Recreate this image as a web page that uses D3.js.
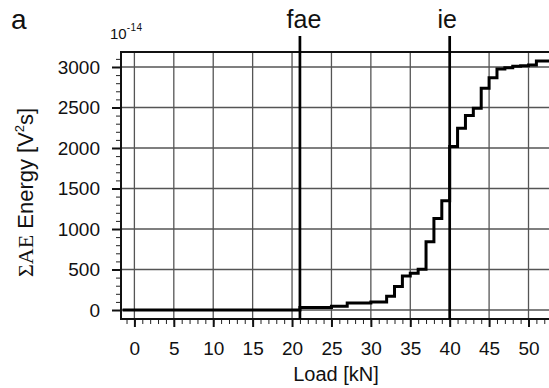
<!DOCTYPE html>
<html><head><meta charset="utf-8">
<script src="https://cdn.jsdelivr.net/npm/d3@7"></script>
<style>body{margin:0;background:#fff}svg{display:block}text{font-family:"Liberation Sans",Arial,sans-serif;fill:#111}</style>
</head><body><svg id="c" width="549" height="388"></svg>
<script>
const loads  = [-1.5, 21, 25, 27, 30, 32, 33, 34, 35, 36, 37, 38, 39, 40, 41, 42, 43, 44, 45, 46, 47, 48, 49, 50, 51, 53];
const energy = [0, 30, 45, 85, 100, 170, 290, 420, 453, 502, 843, 1130, 1348, 2018, 2243, 2400, 2490, 2737, 2868, 2975, 2991, 3008, 3015, 3025, 3074, 3074];
const xTicks = [0, 5, 10, 15, 20, 25, 30, 35, 40, 45, 50];
const yTicks = [0, 500, 1000, 1500, 2000, 2500, 3000];
const events = [{name: "fae", load: 21}, {name: "ie", load: 40}];

const svg = d3.select("#c");
const L = 121, R = 549, T = 52, B = 319;
const x = d3.scaleLinear().domain([-1.7, 52.6]).range([L, R]);
const y = d3.scaleLinear().domain([-111, 3185]).range([B, T]);

// grid
const g = svg.append("g");
g.selectAll(".gx").data(xTicks).join("line")
  .attr("x1", d => x(d)).attr("x2", d => x(d)).attr("y1", T).attr("y2", B)
  .attr("stroke", "#555").attr("stroke-width", 1.3);
g.selectAll(".gy").data(yTicks).join("line")
  .attr("x1", L).attr("x2", R).attr("y1", d => y(d)).attr("y2", d => y(d))
  .attr("stroke", "#555").attr("stroke-width", 1.3);

// x axis ticks (minor every 1, major every 5)
const xAx = d3.axisBottom(x).tickValues(d3.range(-1, 53, 1)).tickSize(4).tickFormat("");
svg.append("g").attr("transform", `translate(0,${B + 1})`).call(xAx)
  .call(s => s.select(".domain").remove())
  .call(s => s.selectAll("line").attr("stroke", "#222").attr("stroke-width", 1));
const xAxM = d3.axisBottom(x).tickValues(xTicks).tickSize(8).tickPadding(15).tickFormat(d3.format("d"));
svg.append("g").attr("transform", `translate(0,${B})`).call(xAxM)
  .call(s => s.select(".domain").remove())
  .call(s => s.selectAll("line").attr("stroke", "#111").attr("stroke-width", 2))
  .call(s => s.selectAll("text").attr("font-size", 19).attr("font-family", "Liberation Sans").attr("fill", "#111"));

// y axis ticks
const yAx = d3.axisLeft(y).tickValues(d3.range(0, 3101, 100)).tickSize(5).tickFormat("");
svg.append("g").attr("transform", `translate(${L},0)`).call(yAx)
  .call(s => s.select(".domain").remove())
  .call(s => s.selectAll("line").attr("stroke", "#222").attr("stroke-width", 1));
const yAxM = d3.axisLeft(y).tickValues(yTicks).tickSize(9).tickPadding(12).tickFormat(d3.format("d"));
svg.append("g").attr("transform", `translate(${L},0)`).call(yAxM)
  .call(s => s.select(".domain").remove())
  .call(s => s.selectAll("line").attr("stroke", "#111").attr("stroke-width", 2))
  .call(s => s.selectAll("text").attr("font-size", 19).attr("font-family", "Liberation Sans").attr("fill", "#111"));

// frame
svg.append("rect").attr("x", L).attr("y", T).attr("width", R - L + 5).attr("height", B - T)
  .attr("fill", "none").attr("stroke", "#111").attr("stroke-width", 2);

// step line
svg.append("defs").append("clipPath").attr("id", "clip").append("rect")
  .attr("x", L).attr("y", T).attr("width", R - L).attr("height", B - T);
const line = d3.line().x((d, i) => x(loads[i])).y(d => y(d)).curve(d3.curveStepAfter);
svg.append("path").datum(energy).attr("d", line).attr("clip-path", "url(#clip)")
  .attr("fill", "none").attr("stroke", "#000").attr("stroke-width", 3).attr("stroke-linejoin", "miter");

// event lines
svg.selectAll(".ev").data(events).join("line")
  .attr("x1", d => x(d.load)).attr("x2", d => x(d.load)).attr("y1", 36).attr("y2", B)
  .attr("stroke", "#000").attr("stroke-width", 2.7);
svg.selectAll(".evt").data(events).join("text")
  .attr("x", d => x(d.load) + (d.name === "fae" ? 4 : -2.5)).attr("y", 28)
  .attr("text-anchor", "middle").attr("font-size", 25).text(d => d.name);

// labels
svg.append("text").attr("x", 11).attr("y", 29).attr("font-size", 28).text("a");
const ex = svg.append("text").attr("x", 110).attr("y", 39).attr("font-size", 15);
ex.append("tspan").text("10");
ex.append("tspan").attr("font-size", 10).attr("dy", -8).attr("letter-spacing", 0.5).text("-14");

svg.append("text").attr("x", 336).attr("y", 381).attr("text-anchor", "middle").attr("font-size", 20).text("Load [kN]");

const yl = svg.append("text").attr("transform", "translate(33,277) rotate(-90)").attr("font-size", 22);
yl.append("tspan").attr("font-family", "Liberation Serif").text("ΣAE");
yl.append("tspan").text(" Energy [V");
yl.append("tspan").attr("font-size", 13).attr("dy", -9).text("2");
yl.append("tspan").attr("dy", 9).text("s]");
</script></body></html>
